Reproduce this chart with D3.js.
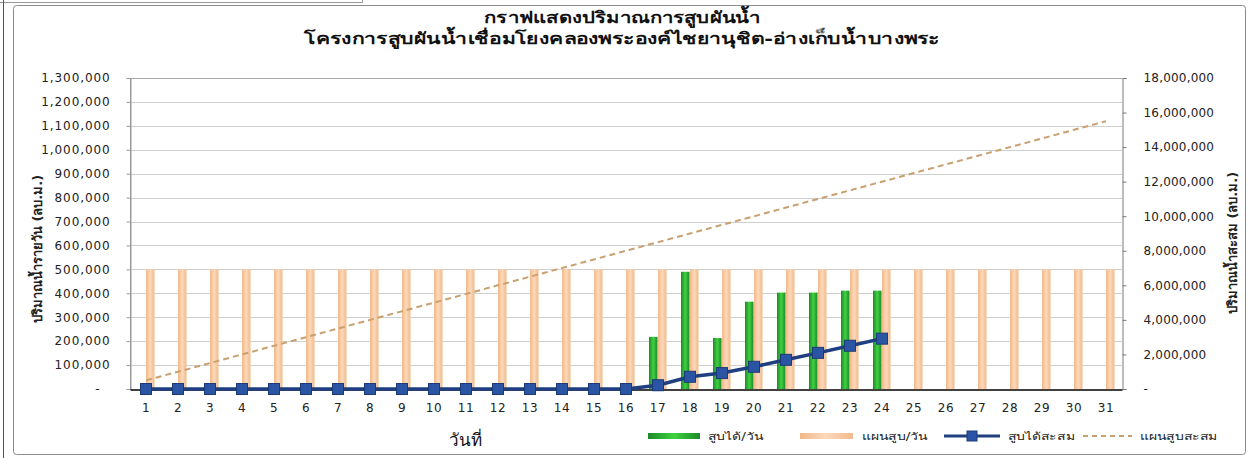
<!DOCTYPE html>
<html><head><meta charset="utf-8">
<script src="https://cdn.jsdelivr.net/npm/d3@7"></script>
<style>
html,body{margin:0;padding:0;background:#fff;}
svg{display:block;}
</style></head>
<body>
<svg id="chart" width="1251" height="458"></svg>
<script>
const days = ["1","2","3","4","5","6","7","8","9","10","11","12","13","14","15","16","17","18","19","20","21","22","23","24","25","26","27","28","29","30","31"];
const pumpedDaily = [0,0,0,0,0,0,0,0,0,0,0,0,0,0,0,0,218000,490000,213000,365000,403000,403000,411000,411000];
const planDaily = [500000,500000,500000,500000,500000,500000,500000,500000,500000,500000,500000,500000,500000,500000,500000,500000,500000,500000,500000,500000,500000,500000,500000,500000,500000,500000,500000,500000,500000,500000,500000];
const pumpedCumulative = [0,0,0,0,0,0,0,0,0,0,0,0,0,0,0,0,218000,708000,921000,1286000,1689000,2092000,2503000,2914000];
const planCumulative = [500000,1000000,1500000,2000000,2500000,3000000,3500000,4000000,4500000,5000000,5500000,6000000,6500000,7000000,7500000,8000000,8500000,9000000,9500000,10000000,10500000,11000000,11500000,12000000,12500000,13000000,13500000,14000000,14500000,15000000,15500000];
const leftTicks = [0,100000,200000,300000,400000,500000,600000,700000,800000,900000,1000000,1100000,1200000,1300000];
const rightTicks = [0,2000000,4000000,6000000,8000000,10000000,12000000,14000000,16000000,18000000];
const titleLines = ["กราฟแสดงปริมาณการสูบผันน้ำ","โครงการสูบผันน้ำเชื่อมโยงคลองพระองค์ไชยานุชิต-อ่างเก็บน้ำบางพระ"];
const leftAxisTitle = "ปริมาณน้ำรายวัน  (ลบ.ม.)";
const rightAxisTitle = "ปริมาณน้ำสะสม (ลบ.ม.)";
const xAxisTitle = "วันที่";
const legendLabels = ["สูบได้/วัน","แผนสูบ/วัน","สูบได้สะสม","แผนสูบสะสม"];

const svg = d3.select("#chart");
const L = 130, R = 1122, T = 78, B = 389;
const FONT = "'DejaVu Sans', 'Noto Sans', sans-serif";
const fmt = d3.format(",");

// fit a text element horizontally to a target width around an anchor
function fitWidth(sel, cx, target) {
  sel.each(function() {
    const w = this.getComputedTextLength();
    const k = target / w;
    const t = d3.select(this);
    t.attr("x", 0).attr("transform", `translate(${cx},0) scale(${k},1)`);
  });
}

// decorations: spreadsheet bits & frame
svg.append("line").attr("x1",0).attr("x2",362).attr("y1",2.5).attr("y2",2.5).attr("stroke","#999");
svg.append("line").attr("x1",362.5).attr("x2",362.5).attr("y1",0).attr("y2",3).attr("stroke","#999");
svg.append("line").attr("x1",3.5).attr("x2",3.5).attr("y1",0).attr("y2",458).attr("stroke","#555");
svg.append("rect").attr("x",13.5).attr("y",5.5).attr("width",1232).attr("height",449).attr("rx",3)
  .attr("fill","#fff").attr("stroke","#8c8c8c");

const defs = svg.append("defs");
const gG = defs.append("linearGradient").attr("id","gGreen").attr("x1","0").attr("x2","1").attr("y1","0").attr("y2","0");
gG.append("stop").attr("offset","0").attr("stop-color","#1c8a2a");
gG.append("stop").attr("offset","0.5").attr("stop-color","#3fd23f");
gG.append("stop").attr("offset","1").attr("stop-color","#1c8a2a");
const gO = defs.append("linearGradient").attr("id","gOrange").attr("x1","0").attr("x2","1").attr("y1","0").attr("y2","0");
gO.append("stop").attr("offset","0").attr("stop-color","#f2b98a");
gO.append("stop").attr("offset","0.5").attr("stop-color","#fcd9bb");
gO.append("stop").attr("offset","1").attr("stop-color","#f2b98a");

const x = d3.scaleBand().domain(days).range([L,R]).padding(0);
const yL = d3.scaleLinear().domain([0,1300000]).range([B,T]);
const yR = d3.scaleLinear().domain([0,18000000]).range([B,T]);

// gridlines
svg.append("g").selectAll("line").data(leftTicks.filter(d=>d>0)).join("line")
  .attr("x1",L).attr("x2",R).attr("y1",d=>Math.round(yL(d))+0.5).attr("y2",d=>Math.round(yL(d))+0.5)
  .attr("stroke","#cfcfcf");
svg.append("line").attr("x1",L).attr("x2",R).attr("y1",T+0.5).attr("y2",T+0.5).attr("stroke","#a8a8a8");
svg.append("line").attr("x1",L+0.5).attr("x2",L+0.5).attr("y1",T).attr("y2",B).attr("stroke","#9a9a9a");

// bars
const bw = 8.5;
svg.append("g").selectAll("rect").data(pumpedDaily).join("rect")
  .attr("x",(d,i)=>x(days[i])+x.bandwidth()/2-9).attr("width",bw)
  .attr("y",d=>yL(d)).attr("height",d=>B-yL(d)).attr("fill","url(#gGreen)");
svg.append("g").selectAll("rect").data(planDaily).join("rect")
  .attr("x",(d,i)=>x(days[i])+x.bandwidth()/2).attr("width",bw)
  .attr("y",d=>yL(d)).attr("height",d=>B-yL(d)).attr("fill","url(#gOrange)");

// left axis
const axL = svg.append("g").attr("transform",`translate(${L+0.5},0)`)
  .call(d3.axisLeft(yL).tickValues(leftTicks).tickSize(4).tickFormat(d=>d===0?"-":fmt(d)));
axL.select(".domain").attr("stroke","#9a9a9a");
axL.selectAll(".tick line").attr("stroke","#9a9a9a");
axL.selectAll(".tick text").attr("x",-20).attr("font-family",FONT).attr("font-size",12).attr("letter-spacing","0.9px").attr("fill","#222")
  .attr("dx",d=>d===0?-10:0);

// right axis
const axR = svg.append("g").attr("transform",`translate(${R+0.5},0)`)
  .call(d3.axisRight(yR).tickValues(rightTicks).tickSize(4).tickFormat(d=>d===0?"-":fmt(d)));
axR.select(".domain").attr("stroke","#7a7a7a");
axR.selectAll(".tick line").attr("stroke","#7a7a7a");
axR.selectAll(".tick text").attr("x",21).attr("font-family",FONT).attr("font-size",12).attr("letter-spacing","0.2px").attr("fill","#222");

// x axis
const axB = svg.append("g").attr("transform",`translate(0,${B+0.5})`)
  .call(d3.axisBottom(x).tickSize(0).tickPadding(14));
axB.select(".domain").attr("stroke","#000").attr("stroke-width",1.5);
axB.selectAll(".tick text").attr("font-family",FONT).attr("font-size",12).attr("letter-spacing","0.6px").attr("fill","#222");

// plan cumulative dashed line
const lineR = d3.line().x((d,i)=>x(days[i])+x.bandwidth()/2).y(d=>yR(d));
svg.append("path").datum(planCumulative).attr("d",lineR).attr("fill","none")
  .attr("stroke","#c9a070").attr("stroke-width",2).attr("stroke-dasharray","6,4");

// pumped cumulative line with markers
svg.append("path").datum(pumpedCumulative).attr("d",lineR).attr("fill","none")
  .attr("stroke","#1f3f80").attr("stroke-width",3.5);
svg.append("g").selectAll("rect").data(pumpedCumulative).join("rect")
  .attr("x",(d,i)=>x(days[i])+x.bandwidth()/2-5.5).attr("y",d=>yR(d)-5.5)
  .attr("width",11).attr("height",11).attr("fill","#2a55a5").attr("stroke","#1c3a78").attr("stroke-width",1);

// titles
const titleWidths = [278, 645];
svg.append("g").selectAll("text").data(titleLines).join("text")
  .attr("y",(d,i)=>23+i*21).attr("text-anchor","middle")
  .attr("font-family",FONT).attr("font-weight","bold").attr("font-size",16).attr("fill","#111").text(d=>d)
  .each(function(d,i){ fitWidth(d3.select(this), 622, titleWidths[i]); });

svg.append("text").attr("transform","translate(42,249) rotate(-90)").attr("text-anchor","middle")
  .attr("font-family",FONT).attr("font-weight","bold").attr("font-size",13).attr("fill","#222").text(leftAxisTitle);
svg.append("text").attr("transform","translate(1237,243) rotate(-90)").attr("text-anchor","middle")
  .attr("font-family",FONT).attr("font-weight","bold").attr("font-size",13).attr("fill","#222").text(rightAxisTitle);
svg.append("text").attr("x",465).attr("y",446).attr("text-anchor","middle")
  .attr("font-family",FONT).attr("font-size",17).attr("fill","#111").text(xAxisTitle);

// legend
const lg = svg.append("g").attr("font-family",FONT).attr("font-size",10).attr("fill","#222");
lg.append("rect").attr("x",648).attr("y",433).attr("width",52).attr("height",6).attr("fill","url(#gGreen)");
lg.append("rect").attr("x",800).attr("y",433).attr("width",53).attr("height",6).attr("fill","url(#gOrange)");
lg.append("line").attr("x1",944).attr("x2",1000).attr("y1",436).attr("y2",436).attr("stroke","#1f3f80").attr("stroke-width",3);
lg.append("rect").attr("x",967).attr("y",431).attr("width",10).attr("height",10).attr("fill","#2a55a5").attr("stroke","#1c3a78");
lg.append("line").attr("x1",1083).attr("x2",1132).attr("y1",436).attr("y2",436).attr("stroke","#c9a070").attr("stroke-width",2).attr("stroke-dasharray","5,4");
const legX = [708, 862, 1008, 1140];
lg.selectAll("text.lt").data(legendLabels).join("text").attr("class","lt")
  .attr("y",440).text(d=>d)
  .attr("transform",(d,i)=>`translate(${legX[i]},0) scale(1.4,1)`);
</script>
</body></html>
